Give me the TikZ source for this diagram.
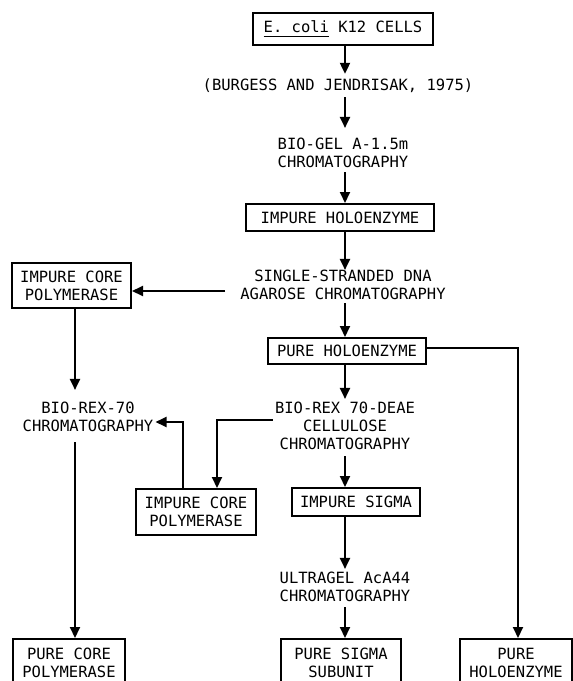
\documentclass[tikz,border=0pt]{standalone}
\usepackage{fontspec}
\setmonofont{DejaVu Sans Mono}
\usetikzlibrary{arrows.meta}
\newcommand{\ecul}[1]{\setbox0=\hbox{#1}\rlap{\rule[-5pt]{\wd0}{1.6pt}}\box0\relax}
\begin{document}
\begin{tikzpicture}[x=1pt,y=-1pt,
  every node/.style={font=\ttfamily\fontsize{15.5}{18}\selectfont, align=center, inner sep=0pt},
  box/.style={draw, line width=2pt, inner xsep=4pt},
  arr/.style={line width=2pt, -{Triangle[length=11pt,width=10pt]}},
  ln/.style={line width=2pt}]
\useasboundingbox (0,0) rectangle (573,681);
\clip (0,0) rectangle (573,681);
\fill[white] (0,0) rectangle (573,681);

% column positions
\coordinate (cx) at (345,0);
\coordinate (lx) at (75,0);
\coordinate (rx) at (518,0);
\coordinate (bxa) at (217,0);
\coordinate (bxb) at (183,0);

% nodes
\node[box, minimum width=180pt, minimum height=32pt] (ecoli) at (343,29) {\ecul{E. coli} K12 CELLS};
\node (burgess) at (338,86) {(BURGESS AND JENDRISAK, 1975)};
\node (biogel) at (343,153) {BIO-GEL A-1.5m\\CHROMATOGRAPHY};
\node[box, minimum width=188pt, minimum height=27pt] (impholo) at (340,217.5) {IMPURE HOLOENZYME};
\node (ssdna) at (343,285) {SINGLE-STRANDED DNA\\AGAROSE CHROMATOGRAPHY};
\node[box, minimum width=119pt, minimum height=45pt] (impcoreA) at (71.5,285.5) {IMPURE CORE\\POLYMERASE};
\node[box, minimum width=158pt, minimum height=26pt] (pureholo) at (347,351) {PURE HOLOENZYME};
\node (biorex) at (88,417) {BIO-REX-70\\CHROMATOGRAPHY};
\node (deae) at (345,426) {BIO-REX 70-DEAE\\CELLULOSE\\CHROMATOGRAPHY};
\node[box, minimum width=120pt, minimum height=46pt] (impcoreB) at (196,512) {IMPURE CORE\\POLYMERASE};
\node[box, minimum width=128pt, minimum height=28pt] (impsigma) at (356,502) {IMPURE SIGMA};
\node (ultragel) at (345,587) {ULTRAGEL AcA44\\CHROMATOGRAPHY};
\node[box, minimum width=112pt, minimum height=47pt] (purecore) at (69,662.5) {PURE CORE\\POLYMERASE};
\node[box, minimum width=120pt, minimum height=47pt] (puresigma) at (341,662.5) {PURE SIGMA\\SUBUNIT};
\node[box, minimum width=112pt, minimum height=47pt] (pureholoB) at (516,662.5) {PURE\\HOLOENZYME};

% helper coordinates on node borders
\coordinate (sw) at ([yshift=-6pt]ssdna.west);
\coordinate (pe) at ([yshift=3pt]pureholo.east);
\coordinate (dw) at ([yshift=6pt]deae.west);
\coordinate (be) at ([yshift=-5pt]biorex.east);

% connectors
\draw[arr, shorten >=5pt] (ecoli.south -| cx) -- (burgess.north -| cx);
\draw[arr, shorten <=4pt, shorten >=10pt] (burgess.south -| cx) -- (biogel.north -| cx);
\draw[arr, shorten <=4pt] (biogel.south -| cx) -- (impholo.north -| cx);
\draw[arr] (impholo.south -| cx) -- (ssdna.north -| cx);
\draw[arr, shorten <=3pt] (ssdna.south -| cx) -- (pureholo.north -| cx);
\draw[arr, shorten <=15pt] (sw) -- (impcoreA.east |- sw);
\draw[arr, shorten >=12pt] (impcoreA.south -| lx) -- (biorex.north -| lx);
\draw[arr, shorten >=3pt] (pureholo.south -| cx) -- (deae.north -| cx);
\draw[arr] (pe) -- (pe -| rx) -- (pureholoB.north -| rx);
\draw[arr, shorten <=2pt] (dw) -| (impcoreB.north -| bxa);
\draw[arr, shorten >=2pt] (impcoreB.north -| bxb) |- (be);
\draw[arr, shorten <=10pt] (biorex.south -| lx) -- (purecore.north -| lx);
\draw[arr, shorten <=6pt] (deae.south -| cx) -- (impsigma.north -| cx);
\draw[arr, shorten >=3pt] (impsigma.south -| cx) -- (ultragel.north -| cx);
\draw[arr, shorten <=5pt] (ultragel.south -| cx) -- (puresigma.north -| cx);
\end{tikzpicture}
\end{document}
